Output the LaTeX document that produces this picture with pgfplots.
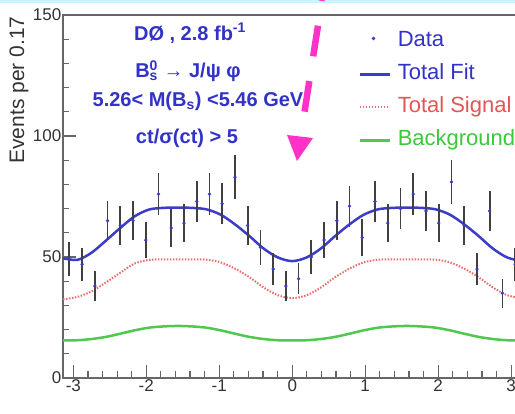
\documentclass[border=0pt]{standalone}
\usepackage{pgfplots}
\pgfplotsset{compat=1.18}
\usepackage{pgfplotstable}
\usepackage{fontspec}
\setmainfont{Liberation Sans}
\definecolor{annoblue}{RGB}{50,50,200}
\definecolor{fitblue}{RGB}{60,60,200}
\definecolor{sigred}{RGB}{232,110,110}
\definecolor{bkggreen}{RGB}{80,200,80}
\definecolor{legred}{RGB}{228,85,85}
\definecolor{leggreen}{RGB}{60,200,60}
\definecolor{arrowpink}{RGB}{255,50,200}
\definecolor{topcyan}{RGB}{200,245,255}
\pgfplotsset{
  datalegend/.style={legend image code/.code={\draw[##1] plot[only marks] coordinates {(14pt,3pt)};}},
  linelegend/.style={legend image code/.code={\draw[##1] (0pt,0pt) -- (30pt,0pt);}},
}

\pgfplotstableread{
x y e
-3.054 49 7.0
-2.880 47 6.9
-2.705 38 6.2
-2.531 65 8.1
-2.356 63 7.9
-2.182 65 8.1
-2.007 57 7.5
-1.833 76 8.7
-1.658 62 7.9
-1.484 64 8.0
-1.309 73 8.5
-1.134 76 8.7
-0.960 72 8.5
-0.785 83 9.1
-0.611 63 7.9
-0.436 54 7.3
-0.262 45 6.7
-0.087 38 6.2
0.087 41 6.4
0.262 50 7.1
0.436 57 7.5
0.611 65 8.1
0.785 71 8.4
0.960 58 7.6
1.134 73 8.5
1.309 64 8.0
1.484 70 8.4
1.658 76 8.7
1.833 69 8.3
2.007 64 8.0
2.182 81 9.0
2.356 63 7.9
2.531 45 6.7
2.705 69 8.3
2.880 35 5.9
3.054 47 6.9
}\datatab

\pgfplotstableread{
x fit sig bkg
-3.1416 49.5 32.5 15.5
-2.9452 48.8 33.5 15.6
-2.7489 51.8 35.8 16.1
-2.5525 56.8 39.5 17.0
-2.3562 62.0 43.5 18.3
-2.1598 66.8 47.3 19.7
-1.9635 69.6 48.8 20.8
-1.7671 70.3 49.0 21.3
-1.5708 70.4 49.0 21.5
-1.3744 70.3 49.0 21.3
-1.1781 69.7 48.9 20.8
-0.9817 67.5 47.8 19.7
-0.7854 63.5 45.2 18.3
-0.5890 58.7 41.7 17.0
-0.3927 53.5 37.4 16.1
-0.1963 49.8 34.2 15.6
0.0000 48.3 33.0 15.5
0.1963 49.8 34.2 15.6
0.3927 53.5 37.4 16.1
0.5890 58.7 41.7 17.0
0.7854 63.5 45.2 18.3
0.9817 67.5 47.8 19.7
1.1781 69.7 48.9 20.8
1.3744 70.3 49.0 21.3
1.5708 70.4 49.0 21.5
1.7671 70.3 49.0 21.3
1.9635 69.7 48.9 20.8
2.1598 67.5 47.8 19.7
2.3562 63.5 45.2 18.3
2.5525 58.7 41.7 17.0
2.7489 53.5 37.4 16.1
2.9452 49.8 34.2 15.6
3.1416 48.3 33.0 15.5
}\curvetab

\begin{document}
\begin{tikzpicture}[x=1pt,y=1pt]
\path[use as bounding box] (0,0) rectangle (515,414);
\clip (0,0) rectangle (515,414);
\fill[white] (0,0) rectangle (515,414);
\fill[topcyan] (0,411) rectangle (515,414);
\begin{axis}[
  at={(63pt,36pt)}, anchor=south west, scale only axis,
  width=458.5pt, height=363pt,
  xmin=-3.1416, xmax=3.1416, ymin=0, ymax=150,
  xtick={-3,-2,-1,0,1,2,3}, ytick={0,50,100,150},
  minor x tick num=4, minor y tick num=4,
  tick align=inside, xtick pos=bottom, ytick pos=left,
  major tick length=13pt, minor tick length=6.5pt,
  /pgf/number format/assume math mode=true,
  ticklabel style={font=\fontsize{17}{20}\selectfont, text=black!80, inner sep=1.5pt},
  axis line style={black!60, line width=1.5pt},
  every tick/.style={black!60, line width=1.2pt},
  legend style={draw=none, fill=none, at={(0.637,0.962)}, anchor=north west,
    font=\fontsize{22}{26}\selectfont, row sep=12pt, column sep=7pt,
    nodes={inner sep=0pt, text height=16pt, text depth=5pt}},
  legend cell align=left,
]
\addlegendimage{fitblue, mark=*, mark size=1.5pt, datalegend}
\addlegendentry[text=annoblue]{Data}
\addlegendimage{fitblue, line width=2.5pt, linelegend}
\addlegendentry[text=annoblue]{Total Fit}
\addlegendimage{sigred, line width=2pt, dash pattern=on 1.5pt off 1.5pt, linelegend}
\addlegendentry[text=legred]{Total Signal}
\addlegendimage{bkggreen, line width=2.5pt, linelegend}
\addlegendentry[text=leggreen]{Background}

\addplot[forget plot, bkggreen, line width=2.5pt, smooth] table[x=x, y=bkg] {\curvetab};
\addplot[forget plot, sigred, line width=2pt, dash pattern=on 1.5pt off 1.5pt, smooth] table[x=x, y=sig] {\curvetab};
\addplot[forget plot, fitblue, line width=2.5pt, smooth] table[x=x, y=fit] {\curvetab};
\addplot[forget plot, fitblue, only marks, mark=*, mark size=1.5pt,
  error bars/.cd, y dir=both, y explicit, error mark=none,
  error bar style={black!75, line width=1.8pt}]
  table[x=x, y=y, y error=e] {\datatab};
\end{axis}

\node[rotate=90, anchor=east, font=\fontsize{21}{24}\selectfont, text=black!80] at (19,401) {Events per 0.17};

\begin{scope}[every node/.style={text=annoblue, font=\bfseries\fontsize{20}{24}\selectfont}]
\node at (190,381) {DØ , 2.8 fb\textsuperscript{-1}};
\node at (188,343) {B\rlap{\textsuperscript{0}}\textsubscript{s} → J/ψ φ};
\node at (198,313) {5.26< M(B\textsubscript{s}) <5.46 GeV};
\node at (187,276) {ct/σ(ct) > 5};
\end{scope}

\draw[arrowpink, line width=6.5pt, dash pattern=on 31pt off 25pt, dash phase=30pt] (322,414) -- (300.9,279);
\fill[arrowpink] (287,279) -- (313,276) -- (297,253) -- cycle;
\end{tikzpicture}
\end{document}
